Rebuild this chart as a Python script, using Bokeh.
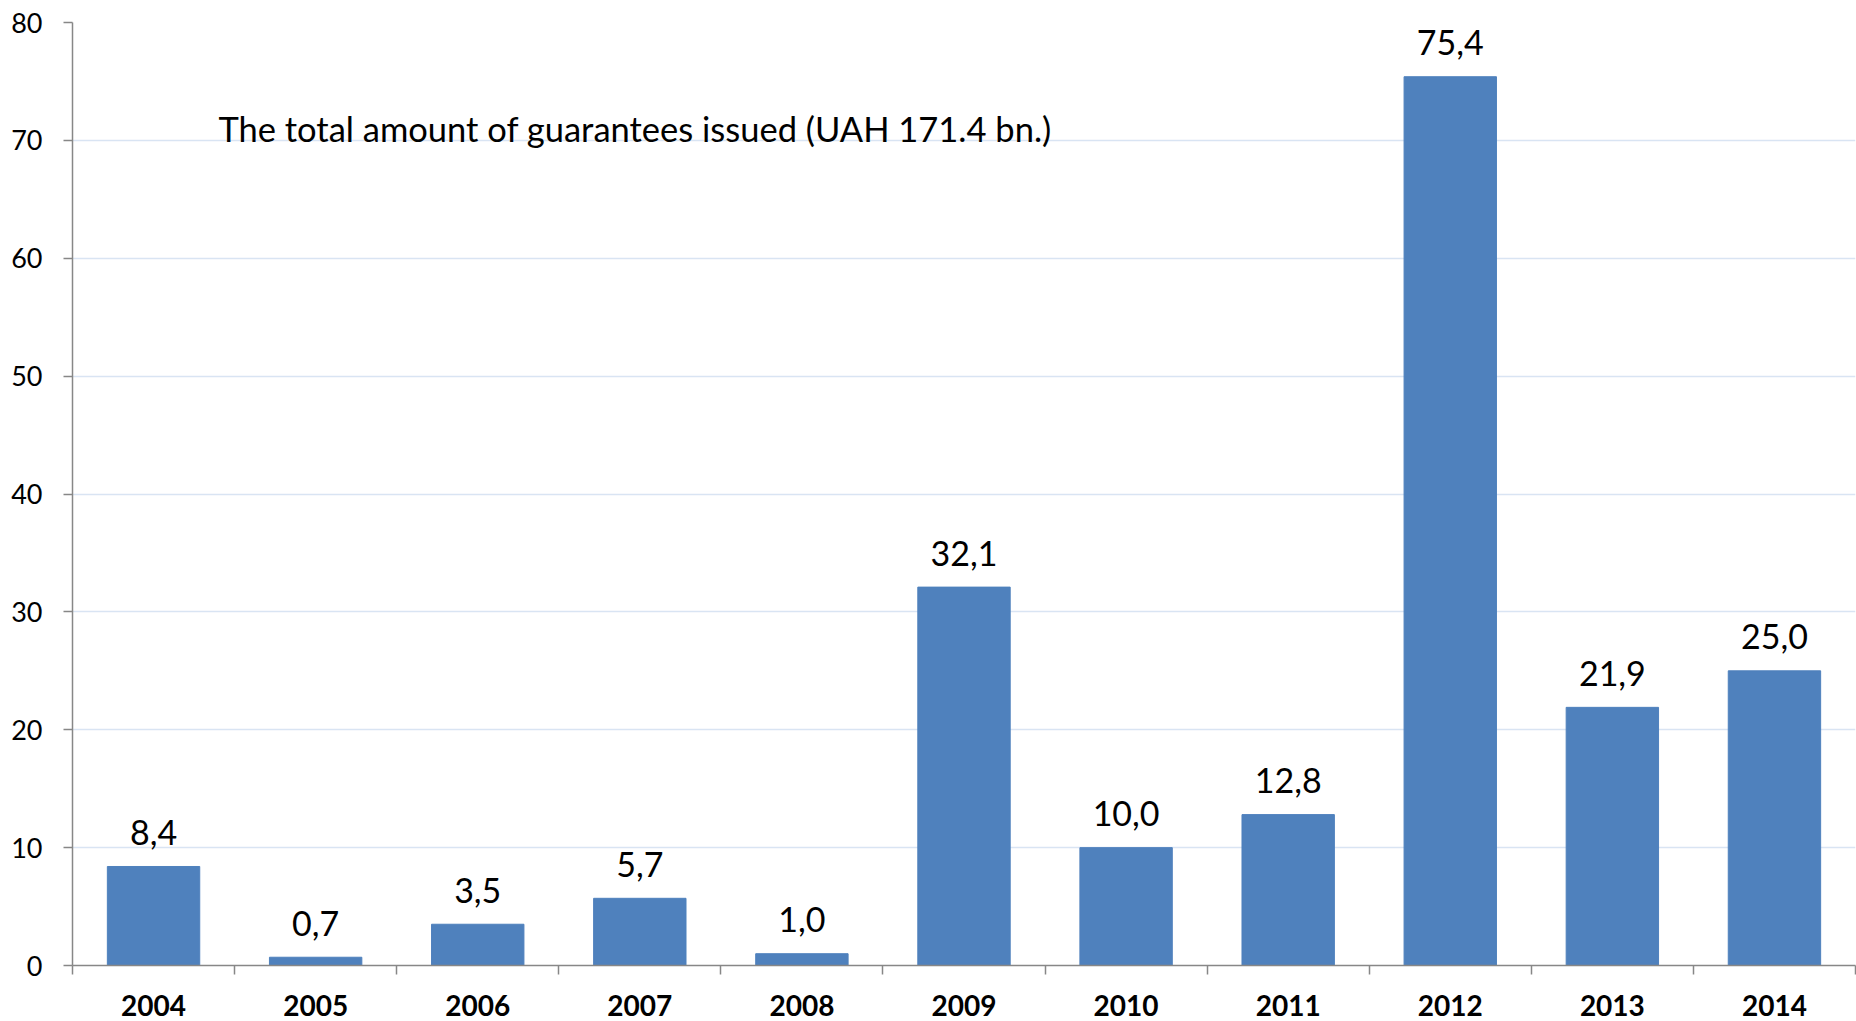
from bokeh.plotting import figure
from bokeh.models import FixedTicker, Range1d, ColumnDataSource, Label
from bokeh.embed import file_html
from bokeh.resources import INLINE
from bokeh.core.properties import value

years = ["2004", "2005", "2006", "2007", "2008", "2009", "2010", "2011", "2012", "2013", "2014"]
amounts = [8.4, 0.7, 3.5, 5.7, 1.0, 32.1, 10.0, 12.8, 75.4, 21.9, 25.0]
y_ticks = [0, 10, 20, 30, 40, 50, 60, 70, 80]
note = "The total amount of guarantees issued (UAH 171.4 bn.)"

FONT = "Lato"
BAR = "#4F81BD"

xs = list(range(len(years)))
labels = [f"{v:.1f}".replace(".", ",") for v in amounts]
src = ColumnDataSource(dict(x=xs, top=amounts, label=labels))

p = figure(width=1856, height=1021, output_backend="svg", toolbar_location=None,
           x_range=Range1d(-0.5, len(years) - 0.5), y_range=Range1d(0, 80),
           min_border_left=72, min_border_right=1, min_border_top=22, min_border_bottom=56)
p.outline_line_color = None
p.background_fill_color = "white"
p.border_fill_color = "white"

p.vbar(x="x", top="top", width=0.57, source=src, fill_color=BAR, line_color=BAR)
p.text(x="x", y="top", text="label", source=src, text_align="center",
       text_baseline="alphabetic", y_offset=-34, text_font=value(FONT),
       text_font_size="34px", text_color="black")

p.add_layout(Label(x=0.40, y=71.0, text=note, text_font=FONT, text_font_size="34.5px",
                   text_baseline="middle", text_align="left", text_color="black"))

# y axis
p.yaxis.ticker = FixedTicker(ticks=y_ticks)
p.yaxis.minor_tick_line_color = None
p.yaxis.major_tick_in = 0
p.yaxis.major_tick_out = 9
p.yaxis.major_label_standoff = 21
p.yaxis.major_label_text_font = FONT
p.yaxis.major_label_text_font_size = "27px"
p.yaxis.major_label_text_color = "black"
p.yaxis.axis_line_color = "#878787"
p.yaxis.axis_line_width = 1.5
p.yaxis.major_tick_line_color = "#878787"
p.yaxis.major_tick_line_width = 1.5

# x axis: labels at centres, tick marks at category boundaries
bounds = [i - 0.5 for i in range(len(years) + 1)]
p.xaxis.ticker = FixedTicker(ticks=xs, minor_ticks=bounds)
p.xaxis.major_label_overrides = {i: y for i, y in zip(xs, years)}
p.xaxis.major_tick_in = 0
p.xaxis.major_tick_out = 0
p.xaxis.minor_tick_in = 0
p.xaxis.minor_tick_out = 9
p.xaxis.minor_tick_line_color = "#878787"
p.xaxis.minor_tick_line_width = 1.5
p.xaxis.major_label_standoff = 20
p.xaxis.major_label_text_font = FONT
p.xaxis.major_label_text_font_size = "28px"
p.xaxis.major_label_text_font_style = "bold"
p.xaxis.major_label_text_color = "black"
p.xaxis.axis_line_color = "#878787"
p.xaxis.axis_line_width = 1.5

p.xgrid.grid_line_color = None
p.ygrid.ticker = FixedTicker(ticks=y_ticks)
p.ygrid.grid_line_color = "#D9E4F3"
p.ygrid.grid_line_width = 1.5

open("out.html", "w").write(file_html(p, INLINE))
